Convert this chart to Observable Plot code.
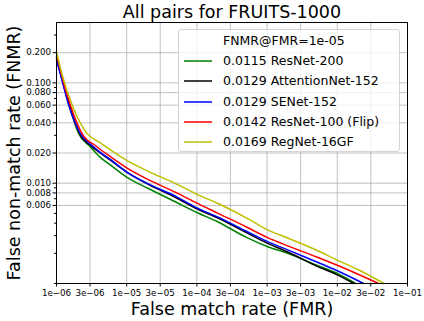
<!DOCTYPE html>
<html><head><meta charset="utf-8">
<script src="https://cdn.jsdelivr.net/npm/d3@7"></script>
<script src="https://cdn.jsdelivr.net/npm/@observablehq/plot@0.6"></script>
<style>
body{margin:0;background:#fff;font-family:"DejaVu Sans",sans-serif;}
#wrap{position:relative;width:424px;height:321px;}
#legend{position:absolute;left:178px;top:29px;width:222px;height:123px;box-sizing:border-box;border:1px solid #d4d4d4;border-radius:3px;background:rgba(255,255,255,0.8);font-size:12.5px;color:#000;padding-top:1px;}
#legend .row{position:relative;height:20.2px;line-height:20.2px;white-space:nowrap;}
#legend .row svg{position:absolute;left:4px;top:0;}
#legend .row span{position:absolute;left:44px;top:0;}
</style></head><body><div id="wrap"></div>
<script>
const titleText = "All pairs for FRUITS-1000";
const xLabel = "False match rate (FMR)";
const yLabel = "False non-match rate (FNMR)";
const legendTitle = "FNMR@FMR=1e-05";

const seriesNames = ["ResNet-200", "AttentionNet-152", "SENet-152", "ResNet-100 (Flip)", "RegNet-16GF"];
const seriesColors = ["#008000", "#000000", "#0000ff", "#ff0000", "#bfbf00"];
const fnmrAt1e5 = ["0.0115", "0.0129", "0.0129", "0.0142", "0.0169"];

const xTicks = [1e-6, 3e-6, 1e-5, 3e-5, 1e-4, 3e-4, 1e-3, 3e-3, 1e-2, 3e-2, 1e-1];
const xTickLabels = ["1e\u221206", "3e\u221206", "1e\u221205", "3e\u221205", "1e\u221204", "3e\u221204", "1e\u221203", "3e\u221203", "1e\u221202", "3e\u221202", "1e\u221201"];
const yTicks = [0.2, 0.1, 0.08, 0.06, 0.04, 0.02, 0.01, 0.008, 0.006];
const yTickLabels = ["0.200", "0.100", "0.080", "0.060", "0.040", "0.020", "0.010", "0.008", "0.006"];
const yMinorTicks = [0.3, 0.09, 0.07, 0.05, 0.03, 0.009, 0.007, 0.005, 0.004, 0.003, 0.002, 0.001];

const greenFmr  = [1e-6, 1.148e-6, 1.533e-6, 2.06e-6, 3.03e-6, 4.2e-6, 5.84e-6, 1e-5, 2e-5, 5e-5, 1e-4, 2e-4, 5e-4, 1e-3, 2e-3, 5e-3, 1e-2, 0.0183];
const greenFnmr = [0.184, 0.124, 0.0577, 0.0314, 0.0231, 0.0181, 0.0152, 0.0115, 0.0089, 0.0065, 0.0051, 0.0041, 0.0029, 0.00234, 0.00199, 0.00153, 0.00126, 0.001];
const blackFmr  = [1e-6, 1.14e-6, 1.55e-6, 2.12e-6, 3.2e-6, 4.2e-6, 5.84e-6, 1e-5, 2e-5, 5e-5, 1e-4, 2e-4, 5e-4, 1e-3, 2e-3, 5e-3, 1e-2, 0.01726];
const blackFnmr = [0.178, 0.124, 0.0577, 0.0314, 0.0231, 0.0200, 0.0170, 0.0129, 0.0098, 0.0072, 0.00555, 0.0045, 0.00323, 0.00253, 0.00205, 0.0015, 0.00122, 0.001];
const blueFmr   = [1e-6, 1.13e-6, 1.52e-6, 2.18e-6, 3.37e-6, 4.2e-6, 5.84e-6, 1e-5, 2e-5, 5e-5, 1e-4, 2e-4, 5e-4, 1e-3, 2e-3, 5e-3, 1e-2, 0.0237];
const blueFnmr  = [0.168, 0.124, 0.0577, 0.0314, 0.0231, 0.0203, 0.0173, 0.0129, 0.0099, 0.0074, 0.00568, 0.00459, 0.00334, 0.00263, 0.00215, 0.00165, 0.00134, 0.001];
const redFmr    = [1e-6, 1.167e-6, 1.604e-6, 2.3e-6, 3.77e-6, 5.84e-6, 1e-5, 2e-5, 5e-5, 1e-4, 2e-4, 5e-4, 1e-3, 2e-3, 5e-3, 1e-2, 0.0388];
const redFnmr   = [0.197, 0.124, 0.0577, 0.0314, 0.0231, 0.0184, 0.0142, 0.0109, 0.0081, 0.00633, 0.00501, 0.00368, 0.00288, 0.00236, 0.00185, 0.00152, 0.001];
const yellowFmr = [1e-6, 1.19e-6, 1.71e-6, 2.71e-6, 4.2e-6, 5.52e-6, 1e-5, 2e-5, 5e-5, 1e-4, 2e-4, 5e-4, 1e-3, 2e-3, 5e-3, 1e-2, 2e-2, 0.0462];
const yellowFnmr= [0.205, 0.124, 0.0577, 0.0314, 0.0253, 0.0221, 0.0169, 0.0132, 0.0099, 0.00774, 0.00627, 0.00453, 0.00345, 0.00283, 0.00216, 0.00171, 0.00137, 0.001];

const seriesFmr = [greenFmr, blackFmr, blueFmr, redFmr, yellowFmr];
const seriesFnmr = [greenFnmr, blackFnmr, blueFnmr, redFnmr, yellowFnmr];

const rows = [];
seriesNames.forEach((name, s) => {
  seriesFmr[s].forEach((f, i) => rows.push({series: name, fmr: f, fnmr: seriesFnmr[s][i]}));
});

const chart = Plot.plot({
  width: 424, height: 321,
  marginLeft: 56, marginRight: 17, marginTop: 22, marginBottom: 38,
  style: {fontFamily: "DejaVu Sans", background: "transparent"},
  x: {type: "log", domain: [1e-6, 1e-1]},
  y: {type: "log", domain: [0.001, 0.4]},
  color: {domain: seriesNames, range: seriesColors},
  marks: [
    Plot.gridX(xTicks, {stroke: "#b0b0b0", strokeOpacity: 1, strokeWidth: 0.8}),
    Plot.gridY(yTicks, {stroke: "#b0b0b0", strokeOpacity: 1, strokeWidth: 0.8}),
    Plot.line(rows, {x: "fmr", y: "fnmr", z: "series", stroke: "series", strokeWidth: 1.5, curve: "monotone-x"}),
    Plot.frame({stroke: "#000", strokeWidth: 1}),
    Plot.axisX(xTicks, {tickSize: 3.5, tickFormat: () => "", label: null}),
    Plot.axisY(yTicks, {tickSize: 3.5, tickFormat: () => "", label: null}),
    Plot.axisY(yMinorTicks, {tickSize: 2, tickFormat: () => "", label: null}),
    Plot.text(xTicks, {x: d => d, text: (d, i) => xTickLabels[i], frameAnchor: "bottom", lineAnchor: "middle", dy: 10, fontSize: 8.7}),
    Plot.text(yTicks, {y: d => d, text: (d, i) => yTickLabels[i], frameAnchor: "left", textAnchor: "end", lineAnchor: "middle", dx: -5.5, fontSize: 8.7}),
    Plot.text([titleText], {frameAnchor: "top", lineAnchor: "middle", dy: -10, fontSize: 17.5}),
    Plot.text([xLabel], {frameAnchor: "bottom", lineAnchor: "middle", dy: 26, fontSize: 17.5}),
    Plot.text([yLabel], {frameAnchor: "left", textAnchor: "middle", lineAnchor: "middle", dx: -42, rotate: -90, fontSize: 17.5})
  ]
});
const wrap = document.getElementById("wrap");
wrap.appendChild(chart);

const legend = document.createElement("div");
legend.id = "legend";
let html = `<div class="row"><span>${legendTitle}</span></div>`;
seriesNames.forEach((name, i) => {
  html += `<div class="row"><svg width="30" height="20"><line x1="1" x2="29" y1="10" y2="10" stroke="${seriesColors[i]}" stroke-width="1.5"/></svg><span>${fnmrAt1e5[i]} ${name}</span></div>`;
});
legend.innerHTML = html;
wrap.appendChild(legend);
</script></body></html>
